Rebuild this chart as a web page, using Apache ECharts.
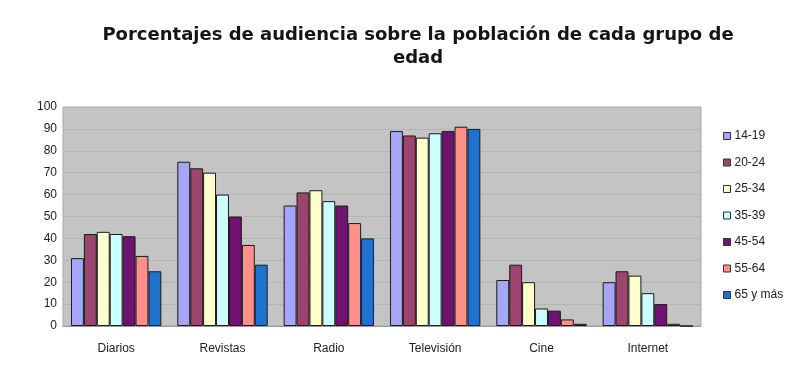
<!DOCTYPE html>
<html>
<head>
<meta charset="utf-8">
<script src="https://cdn.jsdelivr.net/npm/echarts@6/dist/echarts.min.js"></script>
<style>
  html, body { margin: 0; padding: 0; background: #fff; }
  #chart { width: 799px; height: 377px; }
</style>
</head>
<body>
<div id="chart"></div>
<script>
const categories = ["Diarios", "Revistas", "Radio", "Televisión", "Cine", "Internet"];
const groups = ["14-19", "20-24", "25-34", "35-39", "45-54", "55-64", "65 y más"];

// one array per age group, in category order
const g1419 = [31, 75, 55, 89, 21, 20];
const g2024 = [42, 72, 61, 87, 28, 25];
const g2534 = [43, 70, 62, 86, 20, 23];
const g3539 = [42, 60, 57, 88, 8, 15];
const g4554 = [41, 50, 55, 89, 7, 10];
const g5564 = [32, 37, 47, 91, 3, 1];
const g65 = [25, 28, 40, 90, 1, 0];

const seriesValues = [g1419, g2024, g2534, g3539, g4554, g5564, g65];
const COLORS = ["#a6a6f8", "#9c456e", "#ffffcc", "#ccffff", "#6e1470", "#ff8f8a", "#1f73cf"];

const chart = echarts.init(document.getElementById("chart"));

const option = {
  animation: false,
  textStyle: { fontFamily: "Liberation Sans, Arial, sans-serif" },
  title: {
    text: "Porcentajes de audiencia sobre la población de cada grupo de\nedad",
    left: 413,
    top: 19,
    textAlign: "center",
    textStyle: {
      fontSize: 18,
      fontWeight: "bold",
      color: "#151515",
      lineHeight: 23,
      fontFamily: "DejaVu Sans, sans-serif",
    },
  },
  legend: {
    orient: "vertical",
    left: 721,
    top: 130,
    itemWidth: 7,
    itemHeight: 7,
    itemGap: 14.5,
    icon: "rect",
    padding: [0, 4, 0, 2],
    data: groups,
    textStyle: { fontSize: 12, color: "#222", padding: [0, 0, 0, -1] },
    itemStyle: { borderColor: "#333", borderWidth: 1 },
  },
  grid: {
    left: 63,
    right: 98,
    top: 107,
    bottom: 51,
    show: true,
    backgroundColor: "#c4c4c4",
    borderColor: "#a8a8a8",
    borderWidth: 1,
  },
  xAxis: {
    type: "category",
    data: categories,
    axisTick: { show: false },
    axisLine: { lineStyle: { color: "#9a9a9a" } },
    axisLabel: { color: "#222", fontSize: 12, margin: 17 },
  },
  yAxis: {
    type: "value",
    min: 0,
    max: 100,
    interval: 10,
    axisLine: { show: false },
    axisTick: { show: false },
    axisLabel: { color: "#222", fontSize: 12, margin: 6 },
    splitLine: { lineStyle: { color: "#b4b4b4", width: 1 } },
  },
  series: seriesValues.map((vals, i) => ({
    name: groups[i],
    type: "bar",
    data: vals,
    barGap: "0%",
    barCategoryGap: "15%",
    itemStyle: {
      color: COLORS[i],
      borderColor: "#1a1a1a",
      borderWidth: 1,
    },
  })),
};

chart.setOption(option);
</script>
</body>
</html>
